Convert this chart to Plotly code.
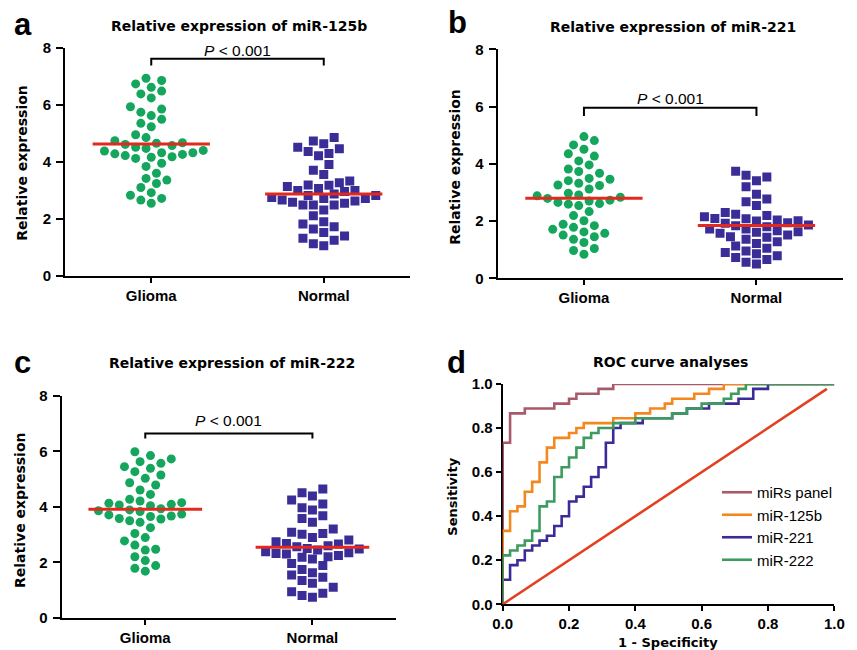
import numpy as np
import plotly.graph_objects as go

# ---------------- data ----------------
groups = ["Glioma", "Normal"]

a_glioma = [6.93, 6.73, 6.61, 6.85, 6.48, 6.24, 6.38, 5.93, 5.74, 5.62, 5.85, 5.49, 5.23, 5.35, 4.95,
            4.85, 4.74, 4.65, 4.61, 4.67, 4.51, 4.40, 4.32, 4.26, 4.22, 4.28, 4.32, 4.38, 4.47, 4.57,
            4.16, 4.12, 4.18, 3.95, 3.84, 3.60, 3.42, 3.36, 3.24, 3.10, 2.92, 2.72, 2.83, 2.55, 2.66]
a_normal = [4.85, 4.73, 4.63, 4.46, 4.51, 4.29, 4.36, 4.21, 3.91, 3.71, 3.56, 3.27, 3.33, 3.18, 3.14,
            3.19, 3.00, 2.96, 3.07, 3.00, 2.87, 2.82, 2.82, 2.75, 2.49, 2.72, 2.49, 2.66, 2.58, 2.72,
            2.49, 2.55, 2.63, 2.31, 2.11, 1.82, 1.90, 1.65, 1.73, 1.52, 1.40, 1.25, 1.32, 1.06, 1.13]
b_glioma = [4.95, 4.81, 4.66, 4.51, 4.35, 4.27, 4.10, 3.96, 3.82, 3.73, 3.67, 3.46, 3.41, 3.49, 3.32,
            3.24, 3.26, 3.12, 2.97, 2.91, 2.88, 2.79, 2.70, 2.83, 2.73, 2.65, 2.61, 2.54, 2.59, 2.33,
            2.19, 2.01, 1.89, 1.84, 1.78, 1.71, 1.62, 1.51, 1.57, 1.45, 1.36, 1.25, 1.04, 0.97, 0.84]
b_normal = [3.74, 3.60, 3.54, 3.41, 3.20, 2.94, 2.67, 2.77, 2.54, 2.30, 2.19, 2.09, 2.04, 2.08, 2.15,
            2.24, 2.01, 1.94, 1.86, 1.80, 1.72, 1.66, 1.72, 1.84, 1.92, 2.00, 1.57, 1.63, 1.61, 1.51,
            1.43, 1.36, 1.45, 1.28, 1.22, 1.13, 1.05, 0.95, 0.90, 0.86, 0.79, 0.73, 0.66, 0.56, 0.50]
c_glioma = [5.99, 5.85, 5.73, 5.57, 5.63, 5.39, 5.45, 5.27, 5.15, 5.03, 4.79, 4.87, 4.61, 4.45, 4.21,
            4.13, 4.07, 4.09, 4.15, 4.27, 4.04, 3.89, 3.93, 3.86, 3.74, 3.58, 3.67, 3.50, 3.65, 3.71,
            3.83, 3.56, 3.44, 3.25, 3.04, 2.89, 2.77, 2.62, 2.44, 2.47, 2.20, 2.06, 1.88, 1.78, 1.68]
c_normal = [4.64, 4.51, 4.39, 4.25, 4.10, 3.89, 3.97, 3.68, 3.58, 3.44, 3.20, 3.08, 3.01, 3.04, 2.89,
            2.80, 2.74, 2.68, 2.60, 2.50, 2.44, 2.34, 2.38, 2.48, 2.56, 2.66, 2.30, 2.20, 2.12, 2.18,
            2.24, 2.32, 1.96, 1.88, 1.74, 1.46, 1.54, 1.62, 1.24, 1.34, 1.10, 0.94, 0.88, 0.80, 0.74]

panel_titles = ["Relative expression of miR-125b", "Relative expression of miR-221",
                "Relative expression of miR-222", "ROC curve analyses"]
p_text = "<i>P</i> &lt; 0.001"
p_bracket_top = [7.61, 5.96, 6.65]
p_bracket_low = [7.38, 5.67, 6.47]
p_text_y = [7.90, 6.27, 7.10]

# ROC curves: cumulative false-positive / true-positive counts out of n_cases
n_cases = 45
roc_names = ["miRs panel", "miR-125b", "miR-221", "miR-222"]
roc_fp = [
    [0, 0, 1, 3, 7, 9, 10, 13, 15, 45],
    [0, 0, 1, 2, 3, 4, 5, 6, 7, 9, 10, 11, 15, 18, 20, 22, 23, 26, 28, 30, 45],
    [0, 0, 1, 2, 3, 4, 5, 6, 7, 8, 9, 10, 11, 12, 13, 14, 15, 16, 19, 23, 25, 28, 32, 34, 36, 45],
    [0, 0, 1, 2, 3, 4, 5, 6, 7, 8, 9, 10, 11, 12, 13, 15, 18, 23, 25, 27, 30, 31, 32, 33, 45],
]
roc_tp = [
    [0, 33, 39, 40, 41, 42, 43, 44, 45, 45],
    [0, 15, 19, 20, 23, 25, 29, 32, 34, 35, 36, 37, 38, 39, 40, 41, 42, 43, 44, 45, 45],
    [0, 5, 8, 9, 11, 12, 13, 14, 16, 18, 21, 22, 24, 26, 28, 33, 36, 37, 38, 39, 40, 41, 42, 44, 45, 45],
    [0, 10, 11, 12, 13, 15, 20, 21, 26, 28, 30, 32, 34, 35, 36, 37, 38, 39, 40, 41, 42, 43, 44, 45, 45],
]
diag_x = [0, 44 / 45]
diag_y = [0, 44 / 45]

# ---------------- styling ----------------
W, H = 857, 650
GREEN_DOT = "#14A65C"
BLUE_SQ = "#3A2D97"
RED_MEAN = "#E3291D"
ROC_COLORS = ["#A85A6B", "#F5871F", "#3B2B99", "#3D9B5F"]
DIAG_RED = "#E2411F"
SANS = "Liberation Sans, Arial, sans-serif"
TICKFONT = dict(family=SANS, size=15, color="black", weight="bold")
TITLEFONT = dict(family="DejaVu Sans, sans-serif", size=14, color="black", weight="bold")

# domains in pixels: (left, right, top, bottom)
pix = {
    1: (65.0, 410.0, 47.7, 276.0),
    2: (497.7, 842.7, 49.3, 278.3),
    3: (61.7, 396.0, 396.0, 617.7),
    4: (502.7, 834.3, 384.0, 604.3),
}

fig = go.Figure()


def swarm(vals, px_x, px_y, d=10.4):
    h = d / 2.0
    vals = np.asarray(vals, float)
    order = np.argsort(vals)
    placed = []
    offs = np.zeros(len(vals))
    cands = [0.0] + [s * n * h for n in range(1, 30) for s in (-1, 1)]
    for i in order:
        yy = vals[i] * px_y
        for c in cands:
            if all((c - ox) ** 2 + (yy - oy) ** 2 >= d * d * 0.97 for ox, oy in placed):
                break
        placed.append((c, yy))
        offs[i] = c / px_x
    return offs


scatter_sets = [(a_glioma, a_normal), (b_glioma, b_normal), (c_glioma, c_normal)]
for k, (gvals, nvals) in enumerate(scatter_sets, start=1):
    l, r, t, b = pix[k]
    px_x = (r - l) / 2.0   # x range spans 2 units
    px_y = (b - t) / 8.0   # y range spans 8 units
    xa = "x" if k == 1 else f"x{k}"
    ya = "y" if k == 1 else f"y{k}"
    for gi, (vals, color, symbol) in enumerate([(gvals, GREEN_DOT, "circle"), (nvals, BLUE_SQ, "square")]):
        offs = swarm(vals, px_x, px_y)
        fig.add_trace(go.Scatter(
            x=gi + offs, y=vals, mode="markers", xaxis=xa, yaxis=ya, showlegend=False,
            marker=dict(symbol=symbol, size=9, color=color, line=dict(width=0)),
            hoverinfo="skip"))
    for gi, vals in enumerate([gvals, nvals]):
        m = float(np.mean(vals))
        fig.add_trace(go.Scatter(
            x=[gi - 0.34, gi + 0.34], y=[m, m], mode="lines", xaxis=xa, yaxis=ya,
            showlegend=False, line=dict(color=RED_MEAN, width=3), hoverinfo="skip"))

# ROC
for name, fp, tp, col in zip(roc_names, roc_fp, roc_tp, ROC_COLORS):
    fig.add_trace(go.Scatter(
        x=np.array(fp) / n_cases, y=np.array(tp) / n_cases, mode="lines", name=name,
        line=dict(color=col, width=2.6, shape="hv"), xaxis="x4", yaxis="y4",
        cliponaxis=False, hoverinfo="skip"))
fig.add_trace(go.Scatter(
    x=diag_x, y=diag_y, mode="lines", showlegend=False, line=dict(color=DIAG_RED, width=2.6),
    xaxis="x4", yaxis="y4", cliponaxis=False, hoverinfo="skip"))

layout = dict(
    template="none",
    width=W, height=H, margin=dict(l=0, r=0, t=0, b=0, pad=0, autoexpand=False),
    paper_bgcolor="white", plot_bgcolor="white", hovermode=False,
    font=dict(family=SANS, color="black"),
    legend=dict(x=717 / W, y=1 - 476 / H, xanchor="left", yanchor="top",
                font=dict(family=SANS, size=15, color="black"),
                bgcolor="rgba(0,0,0,0)", borderwidth=0, tracegroupgap=0, itemwidth=30),
)

for k in range(1, 5):
    l, r, t, b = pix[k]
    xd = [l / W, r / W]
    yd = [1 - b / H, 1 - t / H]
    axcommon = dict(showline=True, linewidth=2, linecolor="black", ticks="outside",
                    tickwidth=2, tickcolor="black", showgrid=False, zeroline=False,
                    tickfont=TICKFONT, fixedrange=True, automargin=False)
    xname = "xaxis" if k == 1 else f"xaxis{k}"
    yname = "yaxis" if k == 1 else f"yaxis{k}"
    yanchor_name = "y" if k == 1 else f"y{k}"
    xanchor_name = "x" if k == 1 else f"x{k}"
    if k < 4:
        layout[xname] = dict(domain=xd, anchor=yanchor_name, range=[-0.5, 1.5], ticklen=5,
                             tickvals=[0, 1], ticktext=groups, **axcommon)
        layout[yname] = dict(domain=yd, anchor=xanchor_name, range=[0, 8], ticklen=7,
                             ticklabelstandoff=2, tickvals=[0, 2, 4, 6, 8], **axcommon)
    else:
        layout[xname] = dict(domain=xd, anchor=yanchor_name, range=[0, 1], ticklen=5,
                             tickvals=[0, 0.2, 0.4, 0.6, 0.8, 1.0], tickformat=".1f",
                             layer="below traces", **axcommon)
        layout[yname] = dict(domain=yd, anchor=xanchor_name, range=[0, 1], ticklen=5,
                             tickvals=[0, 0.2, 0.4, 0.6, 0.8, 1.0], tickformat=".1f",
                             layer="below traces", **axcommon)

fig.update_layout(**layout)

ann = []
# panel letters
for letter, (x, y) in zip("abcd", [(12, 25), (446, 23), (12, 362), (445, 362)]):
    ann.append(dict(text=letter, x=x / W, y=1 - y / H, xref="paper", yref="paper",
                    xanchor="left", yanchor="middle", showarrow=False,
                    font=dict(family=SANS, size=31, color="black", weight="bold")))
# titles
for title, (x, y) in zip(panel_titles, [(239, 26), (672.5, 27), (231.7, 363), (670.8, 362)]):
    ann.append(dict(text=title, x=x / W, y=1 - y / H, xref="paper", yref="paper",
                    xanchor="center", yanchor="middle", showarrow=False, font=TITLEFONT))
# axis titles
for text, (x, y), size in [("Relative expression", (21.7, 163), 14),
                           ("Relative expression", (455, 166.7), 14),
                           ("Relative expression", (20, 510), 14),
                           ("Sensitivity", (453, 496.7), 13)]:
    ann.append(dict(text=text, x=x / W, y=1 - y / H, xref="paper", yref="paper", textangle=-90,
                    xanchor="center", yanchor="middle", showarrow=False,
                    font=dict(TITLEFONT, size=size)))
ann.append(dict(text="1 - Specificity", x=668.3 / W, y=1 - 642 / H, xref="paper", yref="paper",
                xanchor="center", yanchor="middle", showarrow=False, font=dict(TITLEFONT, size=13)))

shapes = []
for k in range(1, 4):
    xr = "x" if k == 1 else f"x{k}"
    yr = "y" if k == 1 else f"y{k}"
    top, low = p_bracket_top[k - 1], p_bracket_low[k - 1]
    shapes.append(dict(type="path", xref=xr, yref=yr,
                       path=f"M0,{low} L0,{top} L1,{top} L1,{low}",
                       line=dict(color="black", width=2)))
    ann.append(dict(text=p_text, x=0.5, y=p_text_y[k - 1], xref=xr, yref=yr, showarrow=False,
                    xanchor="center", yanchor="middle",
                    font=dict(family=SANS, size=15.5, color="black")))

fig.update_layout(annotations=ann, shapes=shapes)
fig.write_html("out.html", config={"displayModeBar": False, "staticPlot": True},
               post_script="document.body.style.margin='0px';document.body.style.overflow='hidden';")
